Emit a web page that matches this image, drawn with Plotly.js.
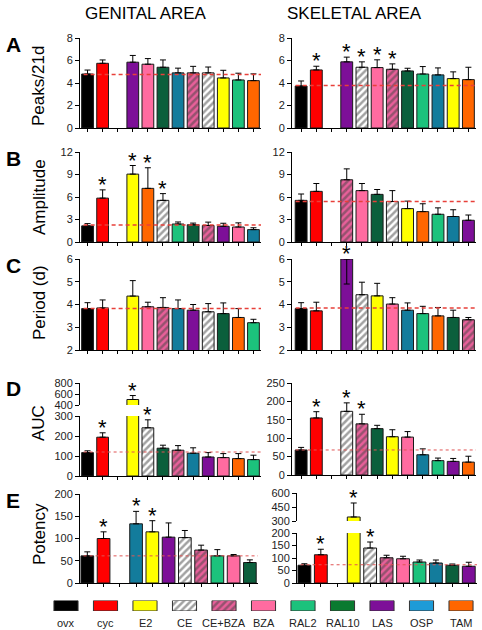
<!DOCTYPE html>
<html><head><meta charset="utf-8">
<script src="https://cdn.plot.ly/plotly-3.0.1.min.js"></script>
<style>html,body{margin:0;padding:0;background:#fff}#chart{width:482px;height:630px}</style>
</head><body><div id="chart"></div>
<script>
// ================= DATA =================
const legendGroups = ["ovx","cyc","E2","CE","CE+BZA","BZA","RAL2","RAL10","LAS","OSP","TAM"];

// A: Peaks/21d
const peaksGenGroups = ["ovx","cyc","","LAS","BZA","RAL10","OSP","CE+BZA","CE","E2","RAL2","TAM"];
const peaksGenVals   = [4.8,5.75,null,5.85,5.67,5.4,4.9,4.9,4.9,4.45,4.27,4.21];
const peaksGenErr    = [0.35,0.3,null,0.6,0.5,0.65,0.42,0.58,0.52,0.68,0.6,0.6];
const peaksGenRef    = 4.75;
const peaksGenStars  = [];

const peaksSkelGroups = ["ovx","cyc","","LAS","CE","BZA","CE+BZA","RAL10","RAL2","OSP","E2","TAM"];
const peaksSkelVals   = [3.73,5.16,null,5.88,5.4,5.37,5.22,5.07,4.8,4.72,4.39,4.3];
const peaksSkelErr    = [0.45,0.33,null,0.42,0.48,0.69,0.48,0.24,0.66,0.62,0.6,1.1];
const peaksSkelRef    = 3.78;
const peaksSkelStars  = ["cyc","LAS","CE","BZA","CE+BZA"];

// B: Amplitude
const ampGenGroups = ["ovx","cyc","","E2","TAM","CE","RAL2","RAL10","CE+BZA","LAS","BZA","OSP"];
const ampGenVals   = [2.15,5.85,null,9.05,7.15,5.55,2.4,2.3,2.2,2.1,2.0,1.65];
const ampGenErr    = [0.3,1.1,null,1.15,2.75,0.9,0.27,0.22,0.45,0.4,0.55,0.25];
const ampGenRef    = 2.25;
const ampGenStars  = ["cyc","E2","TAM","CE"];

const ampSkelGroups = ["ovx","cyc","","CE+BZA","BZA","RAL10","CE","E2","TAM","RAL2","OSP","LAS"];
const ampSkelVals   = [5.55,6.75,null,8.3,6.85,6.35,5.4,4.45,4.05,3.7,3.4,2.9];
const ampSkelErr    = [0.85,1.05,null,1.45,0.95,0.65,1.45,1.0,1.05,0.85,0.9,0.7];
const ampSkelRef    = 5.4;
const ampSkelStars  = [];

// C: Period (d)
const perGenGroups = ["ovx","cyc","","E2","BZA","CE+BZA","OSP","LAS","CE","RAL10","TAM","RAL2"];
const perGenVals   = [3.82,3.85,null,4.37,3.9,3.87,3.82,3.75,3.68,3.6,3.43,3.2];
const perGenErr    = [0.26,0.35,null,0.68,0.2,0.43,0.38,0.25,0.36,0.47,0.39,0.15];
const perGenRef    = 3.82;
const perGenStars  = [];

const perSkelGroups  = ["ovx","cyc","","LAS","CE","E2","BZA","OSP","RAL2","TAM","RAL10","CE+BZA"];
const perSkelVals    = [3.82,3.72,null,6.0,4.43,4.38,4.02,3.75,3.6,3.5,3.43,3.33];
const perSkelErr     = [0.26,0.38,null,0,0.55,0.55,0.28,0.32,0.32,0.37,0.32,0.1];
const perSkelErrDown = [0,0,null,1.1,0,0,0,0,0,0,0,0];
const perSkelRef     = 3.85;
const perSkelStars   = ["LAS"];

// D: AUC
const aucGenGroups = ["ovx","cyc","","E2","CE","RAL10","CE+BZA","OSP","LAS","BZA","TAM","RAL2"];
const aucGenVals   = [117,194,null,500,241,139,129,114,95,92,87,82];
const aucGenErr    = [9,22,null,72,40,15,23,27,22,20,25,22];
const aucGenRef    = 120;
const aucGenStars  = ["cyc","E2","CE"];

const aucSkelGroups = ["ovx","cyc","","CE","CE+BZA","RAL10","E2","BZA","OSP","RAL2","LAS","TAM"];
const aucSkelVals   = [68,155,null,173,139,126,104,103,55,39,37,35];
const aucSkelErr    = [7,17,null,23,26,9,19,15,16,7,8,16];
const aucSkelRef    = 68;
const aucSkelStars  = ["cyc","CE","CE+BZA"];

// E: Potency
const potGenGroups = ["ovx","cyc","","OSP","E2","LAS","CE","CE+BZA","RAL2","BZA","RAL10"];
const potGenVals   = [61,100,null,133,115,103,102,74,61,61,46];
const potGenErr    = [9,15,null,28,25,32,16,11,14,3,6];
const potGenRef    = 61;
const potGenStars  = ["cyc","OSP","E2"];

const potSkelGroups = ["ovx","cyc","","E2","CE","CE+BZA","BZA","RAL2","OSP","RAL10","LAS"];
const potSkelVals   = [71,113,null,343,140,101,97,84,80,71,67];
const potSkelErr    = [6,22,null,150,24,10,10,8,12,5,16];
const potSkelRef    = 73;
const potSkelStars  = ["cyc","E2","CE"];

// ================= STYLE =================
const FONT = 'Arial, "Liberation Sans", sans-serif';
const COLORS = {ovx:'#000000', cyc:'#ff0000', E2:'#ffff00', CE:'#ffffff', 'CE+BZA':'#e8609a',
  BZA:'#ff6ba0', RAL2:'#1cc27c', RAL10:'#0b5f3c', LAS:'#7d0f98', OSP:'#137c9c', TAM:'#ff6600'};
const LEG_COLORS = Object.assign({}, COLORS, {RAL10:'#0a7a30', OSP:'#1e9bd7'});
const HATCH = {CE:'#000000', 'CE+BZA':'#4a1028'};

const W = 482, H = 630;
const fx = p => p / W;
const fy = p => 1 - p / H;

const LX = {x:[80,261], xr:[-0.5,11.5]};
const RX = {x:[292,476], xr:[-0.6,11.5]};

const layout = {
  width: W, height: H, margin:{l:0,r:0,t:0,b:0},
  paper_bgcolor:'#fff', plot_bgcolor:'rgba(0,0,0,0)', showlegend:false,
  font:{family:FONT, size:11, color:'#222'},
  shapes:[], annotations:[]
};
const traces = [];
let xc = 0, yc = 0;
const axName = (p, i) => i === 1 ? p : p + i;
const axKey = (p, i) => (i === 1 ? p + 'axis' : p + 'axis' + i);

function patternFor(groups, cmap){
  return {
    shape:groups.map(g=>HATCH[g]?'/':''),
    fgcolor:groups.map(g=>HATCH[g]||'#000'),
    bgcolor:groups.map(g=>cmap[g]||'rgba(0,0,0,0)'),
    fillmode:'overlay', size:5, solidity:0.5
  };
}

function addPanel(xs, segs, groups, vals, errUp, errDown, ref, refDotted, stars){
  xc++;
  const xn = axName('x', xc);
  const yNames = [];
  segs.forEach((seg, si) => {
    yc++;
    const yn = axName('y', yc);
    yNames.push(yn);
    layout[axKey('y', yc)] = {
      domain:[fy(seg.y[1]), fy(seg.y[0])], range:seg.r, anchor:xn,
      showline:true, linecolor:'#000', linewidth:1, ticks:'outside', ticklen:4, tickcolor:'#000',
      tick0:seg.r[0], dtick:seg.dt, showgrid:false, zeroline:false, fixedrange:true,
      tickfont:{size:11, color:'#222', family:FONT}
    };
    traces.push({
      type:'bar', x:groups.map((g,i)=>i), y:vals, xaxis:xn, yaxis:yn, width:0.78,
      marker:{
        color:groups.map(g=>COLORS[g]||'rgba(0,0,0,0)'),
        line:{color:'#1a1a1a', width:1},
        pattern:patternFor(groups, COLORS)
      },
      error_y:{type:'data', symmetric:false, array:errUp,
        arrayminus: errDown || errUp.map(()=>0),
        color:'#000', thickness:1, width:3, visible:true},
      hoverinfo:'skip'
    });
  });
  layout[axKey('x', xc)] = {
    domain:[fx(xs.x[0]), fx(xs.x[1])], range:xs.xr, anchor:yNames[0],
    showline:true, linecolor:'#000', linewidth:1, ticks:'outside', ticklen:3, tickcolor:'#000',
    tickvals:groups.map((g,i)=>i), showticklabels:false, showgrid:false, zeroline:false, fixedrange:true
  };
  layout.shapes.push({
    type:'line', xref:xn+' domain', yref:yNames[0], x0:0.02, x1:1, y0:ref, y1:ref,
    line: refDotted ? {color:'#e05555', width:1, dash:'dot'} : {color:'#e8403a', width:1.5, dash:'4px,3px'},
    layer:'above'
  });
  stars.forEach(g => {
    const i = groups.indexOf(g);
    const top = vals[i] + (errUp[i] || 0);
    let k = 0;
    segs.forEach((seg, si) => { if (top >= seg.r[0]) k = si; });
    layout.annotations.push({
      x:i, y:Math.min(top, segs[k].r[1]), xref:xn, yref:yNames[k], text:'*', showarrow:false,
      yanchor:'bottom', yshift:-9, font:{size:22, color:'#000', family:FONT}
    });
  });
}

addPanel(LX, [{y:[38,128], r:[0,8], dt:2}], peaksGenGroups, peaksGenVals, peaksGenErr, null, peaksGenRef, false, peaksGenStars);
addPanel(RX, [{y:[38,128], r:[0,8], dt:2}], peaksSkelGroups, peaksSkelVals, peaksSkelErr, null, peaksSkelRef, false, peaksSkelStars);
addPanel(LX, [{y:[152,242], r:[0,12], dt:3}], ampGenGroups, ampGenVals, ampGenErr, null, ampGenRef, false, ampGenStars);
addPanel(RX, [{y:[152,242], r:[0,12], dt:3}], ampSkelGroups, ampSkelVals, ampSkelErr, null, ampSkelRef, false, ampSkelStars);
addPanel(LX, [{y:[259,350], r:[2,6], dt:1}], perGenGroups, perGenVals, perGenErr, null, perGenRef, false, perGenStars);
addPanel(RX, [{y:[259,350], r:[2,6], dt:1}], perSkelGroups, perSkelVals, perSkelErr, perSkelErrDown, perSkelRef, false, perSkelStars);
addPanel(LX, [{y:[416,476], r:[0,300], dt:100}, {y:[383,405], r:[400,800], dt:200}], aucGenGroups, aucGenVals, aucGenErr, null, aucGenRef, true, aucGenStars);
addPanel(RX, [{y:[383,475], r:[0,250], dt:50}], aucSkelGroups, aucSkelVals, aucSkelErr, null, aucSkelRef, true, aucSkelStars);
addPanel({x:[80,258], xr:[-0.45,10.5]}, [{y:[494,583], r:[0,200], dt:50}], potGenGroups, potGenVals, potGenErr, null, potGenRef, true, potGenStars);
addPanel({x:[297,477], xr:[-0.45,10.5]}, [{y:[533,583], r:[0,200], dt:50}, {y:[493,521], r:[300,600], dt:150}], potSkelGroups, potSkelVals, potSkelErr, null, potSkelRef, true, potSkelStars);

// legend as a small bar subplot
xc++; yc++;
const lxn = axName('x', xc), lyn = axName('y', yc);
layout[axKey('x', xc)] = {domain:[fx(50), fx(478)], range:[-0.405,10.43], anchor:lyn,
  showline:false, ticks:'', showticklabels:false, showgrid:false, zeroline:false, fixedrange:true};
layout[axKey('y', yc)] = {domain:[fy(611), fy(600.5)], range:[0,1], anchor:lxn, visible:false, fixedrange:true};
traces.push({
  type:'bar', x:legendGroups.map((g,i)=>i), y:legendGroups.map(()=>1), xaxis:lxn, yaxis:lyn, width:0.61,
  marker:{color:legendGroups.map(g=>LEG_COLORS[g]), line:{color:'#333', width:1},
    pattern:patternFor(legendGroups, LEG_COLORS)},
  hoverinfo:'skip'
});
legendGroups.forEach((g, i) => {
  layout.annotations.push({x:i, y:0, xref:lxn, yref:lyn, text:g, showarrow:false,
    yanchor:'top', yshift:-4, font:{size:11, color:'#222', family:FONT}});
});

// text annotations
function txt(t, x, y, size, opts){
  layout.annotations.push(Object.assign({text:t, x:fx(x), y:fy(y), xref:'paper', yref:'paper',
    showarrow:false, xanchor:'center', yanchor:'middle', font:{size:size, color:'#000', family:FONT}}, opts||{}));
}
txt('GENITAL AREA', 146, 13, 17);
txt('SKELETAL AREA', 354, 13, 17);
[['A',45],['B',158],['C',265],['D',388],['E',501]].forEach(([l,y]) => txt('<b>'+l+'</b>', 13, y, 21));
[['Peaks/21d',86],['Amplitude',197],['Period (d)',303],['AUC',423],['Potency',534]].forEach(([t,y]) =>
  txt(t, 39, y, 17, {textangle:-90}));

Plotly.newPlot('chart', traces, layout, {staticPlot:true, displayModeBar:false});
</script></body></html>
